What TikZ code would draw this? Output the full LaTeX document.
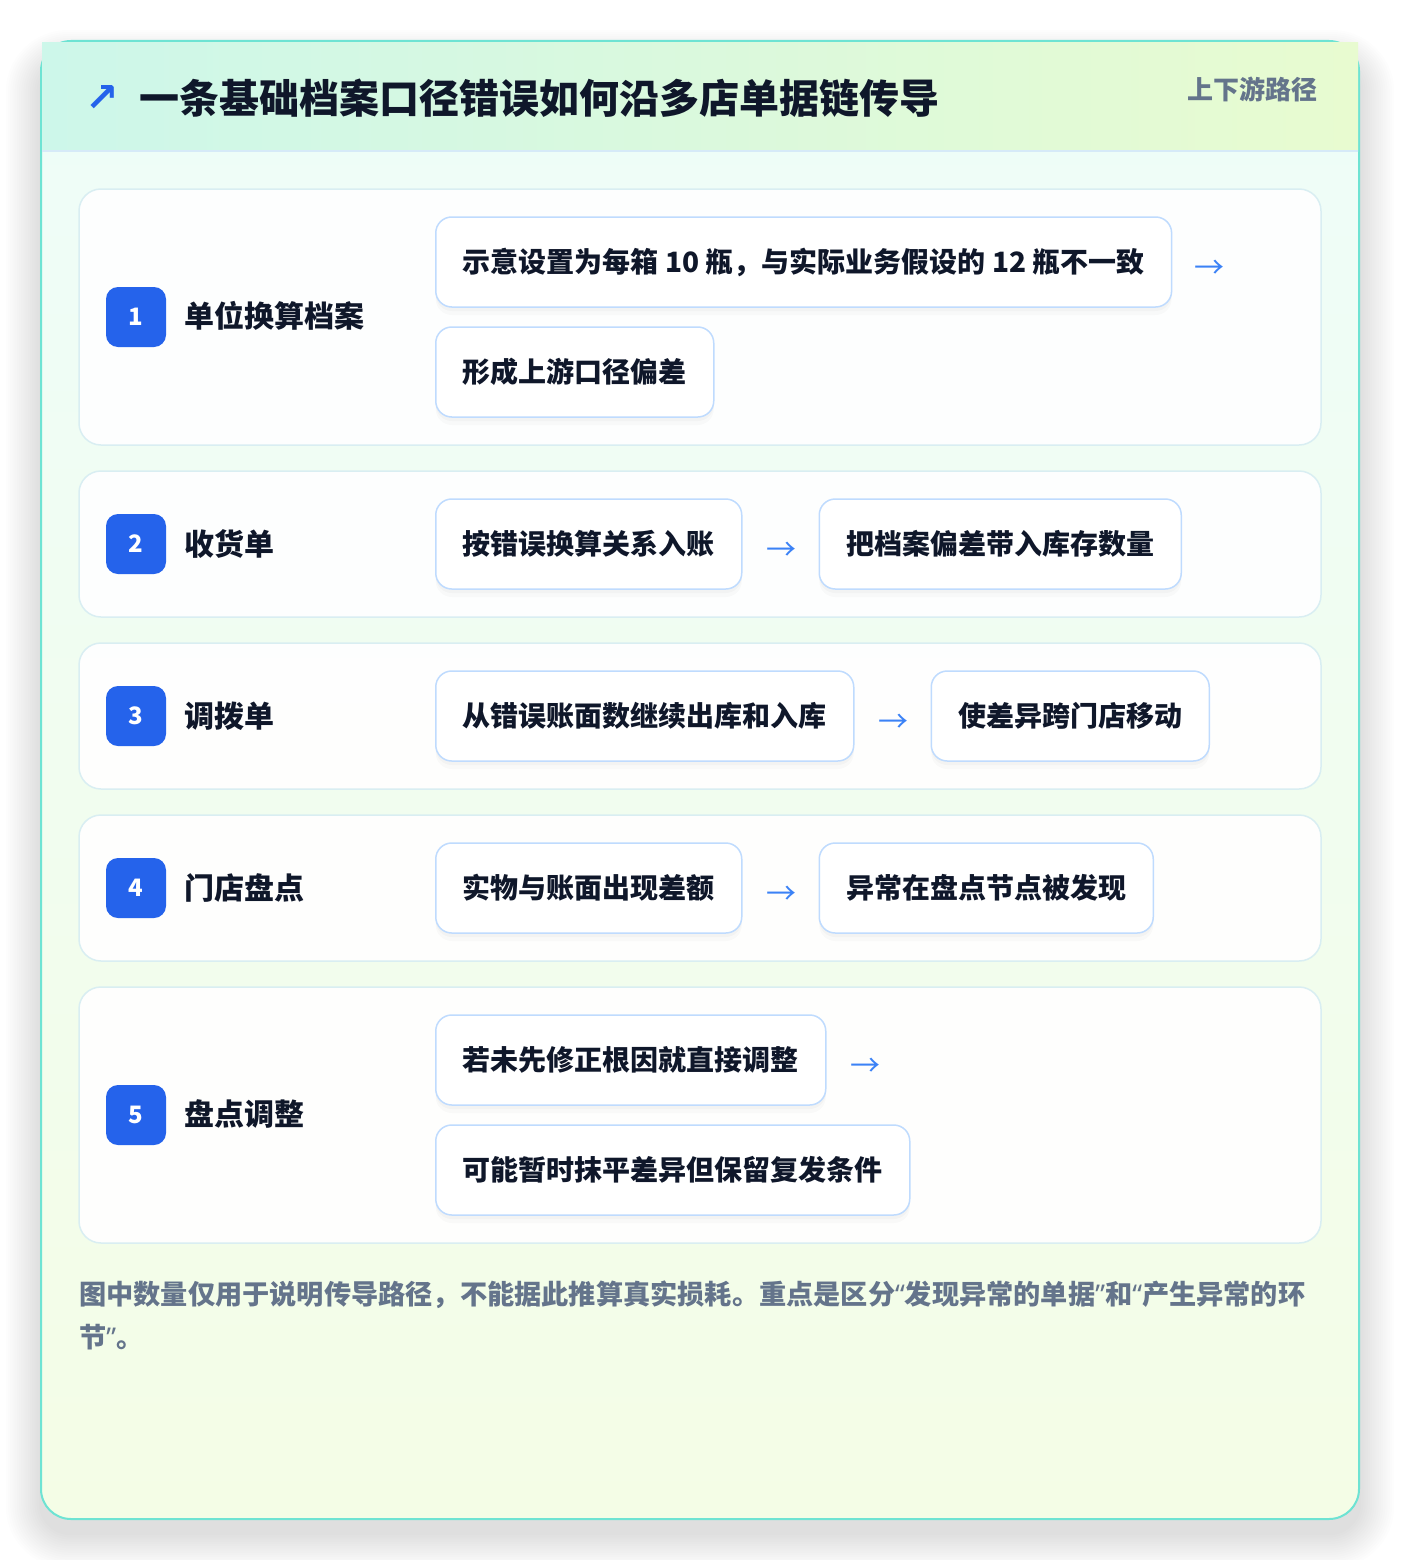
\documentclass[tikz,border=0pt]{standalone}
\usepackage{fontspec}
\setmainfont{Noto Sans CJK SC}
\newfontfamily\latinq{Noto Sans}
\newfontfamily\symf{DejaVu Sans}
\usetikzlibrary{positioning}
\definecolor{cardborder}{HTML}{6EE3D3}
\definecolor{hdl}{HTML}{CDF7EA}
\definecolor{hdr}{HTML}{E8FBD0}
\definecolor{cardtop}{HTML}{EEFDF9}
\definecolor{cardbot}{HTML}{F4FDE6}
\definecolor{sepc}{HTML}{D6EAF8}
\definecolor{rowborder}{HTML}{D9EEF2}
\definecolor{boxborder}{HTML}{BFDBFE}
\definecolor{badgec}{HTML}{2563EB}
\definecolor{inkc}{HTML}{0F172A}
\definecolor{mutedc}{HTML}{64748B}
\definecolor{arrowc}{HTML}{3B82F6}
\newcommand{\myLQ}{{\latinq “}}
\newcommand{\myRQ}{{\latinq ”}}
\tikzset{
  rowbox/.style={draw=rowborder, line width=1.5pt, fill=white, fill opacity=0.93,
    rounded corners=22pt, minimum width=1242pt, inner sep=0pt},
  badge/.style={fill=badgec, rounded corners=12pt, minimum width=60pt, minimum height=60pt,
    inner sep=0pt, text=white, font=\fontsize{24}{24}\selectfont\bfseries},
  lbl/.style={anchor=west, inner sep=0pt, text=inkc, font=\fontsize{30}{30}\selectfont\bfseries},
  stepbox/.style={draw=boxborder, line width=1.5pt, fill=white, rounded corners=16pt,
    minimum height=90pt, inner xsep=27pt, inner ysep=0pt, text=inkc,
    font=\fontsize{28}{28}\selectfont\bfseries, anchor=west,
    preaction={fill=black, fill opacity=0.025, transform canvas={yshift=-4pt}},
    preaction={fill=black, fill opacity=0.02, transform canvas={yshift=-8pt}}},
  flow/.style={anchor=west, inner sep=0pt, text=arrowc, font=\fontsize{30}{30}\selectfont},
  foottext/.style={anchor=west, inner sep=0pt, text=mutedc, font=\fontsize{27.2}{27.2}\selectfont\bfseries},
}
\begin{document}
\begin{tikzpicture}[x=1pt,y=-1pt]
\useasboundingbox (0,0) rectangle (1400,1560);
\fill[white] (0,0) rectangle (1400,1560);
% outer shadow
\foreach \i in {1,...,16}{
  \fill[black, fill opacity=0.007, rounded corners={30pt+\i*2pt}]
    ({41-\i*2.2},{62-\i*2.0}) rectangle ({1359+\i*2.2},{1533+\i*2.2});
}
% card
\shade[rounded corners=30pt, top color=cardtop, bottom color=cardbot] (41,41) rectangle (1359,1519);
\draw[cardborder, line width=2pt, rounded corners=30pt] (41,41) rectangle (1359,1519);
% header
\shade[left color=hdl, right color=hdr] (42,43) rectangle (1358,151);
\draw[sepc, line width=2pt] (42,151) -- (1358,151);
\node[text=badgec, inner sep=0pt, font=\symf\fontsize{40}{40}\selectfont\bfseries] (icon) at (102,99) {↗};
\node[anchor=west, inner sep=0pt, text=inkc, font=\fontsize{40}{40}\selectfont\bfseries] (title) at (139,98) {一条基础档案口径错误如何沿多店单据链传导};
\node[anchor=east, inner sep=0pt, text=mutedc, font=\fontsize{26}{26}\selectfont\bfseries] (tag) at (1318,89) {上下游路径};
% rows
\node[rowbox, minimum height=256pt] (r1) at (700,317) {};
\node[rowbox, minimum height=146pt] (r2) at (700,544) {};
\node[rowbox, minimum height=146pt] (r3) at (700,716) {};
\node[rowbox, minimum height=146pt] (r4) at (700,888) {};
\node[rowbox, minimum height=256pt] (r5) at (700,1115) {};
% badges and labels
\node[badge] (b1) at (136,317) {1};
\node[lbl] (l1) at (184,316) {单位换算档案};
\node[badge] (b2) at (136,544) {2};
\node[lbl] (l2) at (184,544) {收货单};
\node[badge] (b3) at (136,716) {3};
\node[lbl] (l3) at (184,716) {调拨单};
\node[badge] (b4) at (136,888) {4};
\node[lbl] (l4) at (184,888) {门店盘点};
\node[badge] (b5) at (136,1115) {5};
\node[lbl] (l5) at (184,1114) {盘点调整};
% row 1
\node[stepbox] (s11) at (435,262) {示意设置为每箱 10 瓶，与实际业务假设的 12 瓶不一致};
\node[flow] (a1) at ([xshift=22pt,yshift=-7pt]s11.east) {→};
\node[stepbox] (s12) at (435,372) {形成上游口径偏差};
% row 2
\node[stepbox] (s21) at (435,544) {按错误换算关系入账};
\node[flow] (a2) at ([xshift=24pt,yshift=-7pt]s21.east) {→};
\node[stepbox] (s22) at ([xshift=76pt]s21.east) {把档案偏差带入库存数量};
% row 3
\node[stepbox] (s31) at (435,716) {从错误账面数继续出库和入库};
\node[flow] (a3) at ([xshift=24pt,yshift=-7pt]s31.east) {→};
\node[stepbox] (s32) at ([xshift=76pt]s31.east) {使差异跨门店移动};
% row 4
\node[stepbox] (s41) at (435,888) {实物与账面出现差额};
\node[flow] (a4) at ([xshift=24pt,yshift=-7pt]s41.east) {→};
\node[stepbox] (s42) at ([xshift=76pt]s41.east) {异常在盘点节点被发现};
% row 5
\node[stepbox] (s51) at (435,1060) {若未先修正根因就直接调整};
\node[flow] (a5) at ([xshift=24pt,yshift=-7pt]s51.east) {→};
\node[stepbox] (s52) at (435,1170) {可能暂时抹平差异但保留复发条件};
% footer
\node[foottext] (foot1) at (79,1295) {图中数量仅用于说明传导路径，不能据此推算真实损耗。重点是区分\myLQ 发现异常的单据\myRQ 和\myLQ 产生异常的环};
\node[foottext] (foot2) at (79,1337) {节\myRQ 。};
\end{tikzpicture}
\end{document}
